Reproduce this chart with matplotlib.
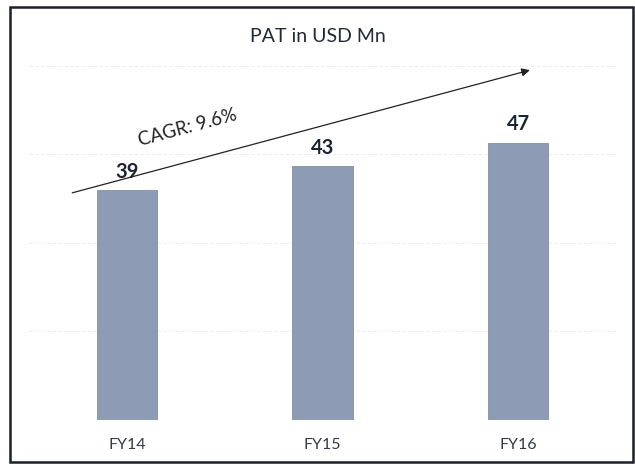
import matplotlib.pyplot as plt
from matplotlib.patches import Rectangle

years = ["FY14", "FY15", "FY16"]
pat = [39, 43, 47]
cagr_text = "CAGR: 9.6%"
title = "PAT in USD Mn"

plt.rcParams["font.family"] = ["Lato", "DejaVu Sans"]

fig = plt.figure(figsize=(6.35, 4.68), dpi=100)
ax = fig.add_axes([0.046, 0.1026, 0.924, 0.832])

x = range(len(years))
bars = ax.bar(x, pat, width=0.31, color="#8d9bb4", edgecolor="#7f8ea9", linewidth=0.6, zorder=2)

for xi, v in zip(x, pat):
    ax.annotate(str(v), (xi, v), xytext=(0, 6), textcoords="offset points",
                ha="center", va="bottom", fontsize=14.5, fontweight="bold", color="#1f2530")

ax.set_xlim(-0.5, 2.5)
ax.set_ylim(0, 66)
ax.set_xticks(list(x))
ax.set_xticklabels(years, fontsize=11.5, color="#333a45")
ax.tick_params(axis="x", length=0, pad=13)
ax.set_yticks([15, 30, 45, 60])
ax.tick_params(axis="y", left=False, labelleft=False)
ax.grid(axis="y", color="#d8d8d8", linewidth=0.6, linestyle=(0, (4, 3)), alpha=0.6, zorder=0)
for s in ax.spines.values():
    s.set_visible(False)

# CAGR arrow
ax.annotate("", xy=(2.06, 59.3), xytext=(-0.28, 38.5),
            arrowprops=dict(arrowstyle="-|>", color="#222222", lw=0.9,
                            mutation_scale=12, shrinkA=0, shrinkB=0))
ax.text(0.31, 49.6, cagr_text, rotation=15, ha="center", va="center",
        fontsize=13.5, color="#222222", rotation_mode="anchor")

fig.text(0.5, 0.921, title, ha="center", va="center", fontsize=14, color="#222a36")

# outer frame
fig.patches.append(Rectangle((10 / 635, 6 / 468), 623 / 635, 455 / 468,
                             transform=fig.transFigure, fill=False,
                             edgecolor="#1a1f28", linewidth=1.8))

fig.savefig("out.png", dpi=100)
